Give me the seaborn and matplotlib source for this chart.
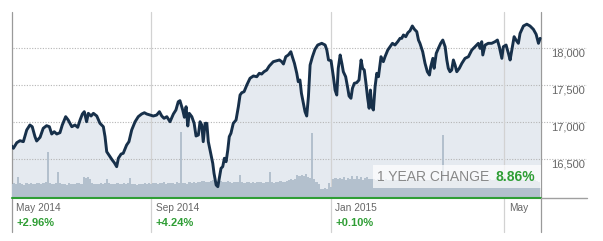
import matplotlib
matplotlib.use("Agg")
import matplotlib.pyplot as plt
import matplotlib.transforms as mtransforms
from matplotlib.patches import Rectangle
import seaborn as sns

# ---------------- data ----------------
day = [0.0, 0.8, 2.4, 3.9, 5.5, 7.1, 8.6, 9.7, 11.0, 11.8, 13.4, 14.9, 16.5, 17.8, 18.9,
       20.1, 21.3, 22.8, 23.9, 25.5, 26.7, 28.4, 29.9, 31.2, 32.3, 33.4, 34.3, 35.4, 36.2,
       37.5, 38.6, 40.2, 41.7, 43.3, 44.1, 44.9, 46.5, 47.5, 48.5, 49.6, 50.4, 51.7, 52.7,
       54.3, 55.4, 56.7, 58.3, 59.8, 61.4, 62.7, 63.8, 65.4, 66.9, 68.5, 69.8, 70.9, 72.0,
       73.3, 74.8, 76.4, 77.6, 78.7, 79.5, 80.8, 81.6, 82.4, 83.2, 83.9, 85.1, 86.2, 87.1,
       88.2, 89.0, 89.8, 90.5, 91.4, 92.2, 92.9, 94.0, 95.0, 95.6, 96.6, 97.4, 98.1, 98.9,
       99.7, 100.5, 101.3, 102.1, 102.8, 103.6, 104.7, 106.0, 107.1, 107.9, 108.7, 109.8,
       111.1, 112.6, 114.2, 115.8, 117.0, 118.1, 119.2, 120.5, 121.7, 122.9, 123.6, 125.2,
       126.5, 127.6, 128.4, 129.5, 130.7, 131.9, 132.6, 133.6, 134.7, 135.4, 136.2, 136.9,
       137.8, 138.6, 139.4, 140.2, 141.0, 142.1, 143.3, 144.6, 146.5, 148.1, 148.9, 149.7,
       150.9, 152.0, 152.8, 153.6, 154.3, 155.2, 156.0, 156.7, 157.8, 158.8, 159.4, 160.3,
       161.0, 161.9, 163.0, 164.1, 165.1, 165.8, 166.6, 167.3, 168.2, 168.9, 169.5, 170.1,
       170.9, 171.7, 172.5, 173.3, 174.5, 175.6, 176.4, 177.7, 178.8, 179.9, 181.1, 182.4,
       183.5, 184.3, 185.1, 186.2, 187.2, 188.2, 189.3, 190.3, 191.4, 192.2, 192.9, 194.2,
       195.3, 196.4, 197.4, 198.0, 199.0, 199.6, 200.6, 201.6, 202.7, 203.7, 204.8, 205.6,
       206.3, 207.1, 207.9, 208.7, 209.5, 210.3, 211.5, 212.7, 214.2, 215.8, 217.4, 218.9,
       220.5, 221.3, 222.1, 222.6, 223.7, 225.2, 226.8, 228.4, 229.5, 230.4, 231.6, 232.3,
       233.6, 234.7, 235.5, 236.3, 237.4, 238.3, 239.4, 240.2, 241.8, 243.4, 244.9, 246.5,
       247.8, 248.9, 249.7]
close = [16679, 16648, 16723, 16750, 16737, 16894, 16961, 16938, 16804, 16746, 16796, 16917,
         16952, 16938, 16840, 16871, 16840, 16858, 16961, 17073, 17028, 16938, 16961, 16930,
         17028, 17109, 17140, 17005, 17118, 17082, 17118, 17082, 16984, 16938, 16804, 16602,
         16535, 16491, 16454, 16401, 16514, 16571, 16581, 16692, 16737, 16894, 17005, 17073,
         17109, 17126, 17109, 17095, 17082, 17095, 17140, 17082, 17051, 17073, 17005, 17109,
         17163, 17274, 17288, 17163, 17065, 17207, 16948, 17118, 17073, 16984, 16813, 16827,
         17005, 16961, 16737, 16984, 16984, 16737, 16581, 16446, 16312, 16155, 16132, 16245,
         16379, 16401, 16514, 16468, 16625, 16804, 16850, 16984, 17028, 17207, 17364, 17395,
         17409, 17499, 17589, 17620, 17610, 17656, 17646, 17677, 17700, 17754, 17790, 17812,
         17825, 17835, 17812, 17781, 17879, 17902, 17946, 17879, 17790, 17656, 17543, 17566,
         17387, 17253, 17140, 17082, 17341, 17767, 17879, 17978, 18036, 18059, 18036, 17969,
         17835, 17825, 17610, 17431, 17364, 17723, 17902, 17790, 17677, 17610, 17454, 17351,
         17320, 17454, 17522, 17530, 17566, 17835, 17723, 17700, 17543, 17320, 17186, 17431,
         17207, 17163, 17476, 17656, 17610, 17879, 17812, 17879, 17969, 18013, 18059, 18036,
         18081, 18126, 18126, 18171, 18148, 18202, 18228, 18292, 18247, 18215, 18103, 18059,
         17946, 17790, 17677, 17633, 17745, 17857, 17723, 17924, 17991, 18059, 18103, 18013,
         17835, 17723, 17677, 17700, 17835, 17767, 17677, 17723, 17790, 17857, 17879, 17969,
         18013, 18059, 17991, 18081, 17902, 18036, 18059, 18059, 18081, 18103, 18013, 17857,
         18013, 18036, 17924, 17835, 17969, 18148, 18103, 18059, 18192, 18292, 18316, 18292,
         18247, 18180, 18059, 18126]

vol_day = list(range(250))
volume = [85, 88, 80, 125, 90, 82, 78, 86, 84, 88,
          80, 84, 90, 86, 82, 88, 92, 275, 86, 84,
          80, 88, 155, 90, 84, 82, 78, 86, 80, 84,
          82, 88, 90, 84, 125, 118, 122, 110, 86, 80,
          84, 80, 86, 82, 90, 115, 88, 84, 80, 82,
          86, 84, 80, 88, 82, 86, 120, 84, 80, 78,
          82, 80, 84, 86, 82, 88, 84, 86, 90, 84,
          88, 86, 92, 84, 88, 90, 86, 84, 92, 88,
          395, 90, 86, 84, 92, 88, 94, 90, 96, 92,
          98, 102, 96, 94, 100, 104, 98, 96, 92, 100,
          96, 94, 98, 92, 90, 96, 94, 92, 138, 94,
          90, 92, 96, 88, 94, 90, 92, 96, 94, 90,
          96, 94, 155, 92, 90, 94, 96, 98, 92, 96,
          100, 104, 110, 108, 112, 138, 130, 135, 132, 140,
          125, 118, 390, 110, 95, 80, 55, 50, 58, 54,
          90, 62, 110, 118, 112, 120, 110, 125, 105, 120,
          115, 128, 110, 130, 112, 124, 108, 118, 122, 110,
          115, 110, 108, 112, 105, 110, 106, 112, 108, 104,
          110, 106, 108, 104, 110, 106, 112, 108, 104, 110,
          106, 108, 112, 104, 108, 110, 106, 108, 104, 110,
          106, 108, 104, 110, 378, 106, 110, 104, 108, 106,
          104, 110, 106, 108, 112, 104, 108, 106, 110, 104,
          108, 106, 110, 104, 108, 106, 112, 104, 108, 110,
          104, 106, 110, 108, 104, 110, 106, 108, 104, 110,
          106, 104, 108, 110, 104, 106, 108, 104, 98, 92]

tick_days = [0, 65.8, 150.8, 232.8]
tick_labels = ["May 2014", "Sep 2014", "Jan 2015", "May"]
tick_changes = ["+2.96%", "+4.24%", "+0.10%", ""]
y_ticks = [16500, 17000, 17500, 18000]
y_tick_labels = ["16,500", "17,000", "17,500", "18,000"]
change_label = "1 YEAR CHANGE"
change_value = "8.86%"

# ---------------- styling ----------------
sns.set_style("white")
plt.rcParams['font.family'] = ['Liberation Sans', 'DejaVu Sans']

NAVY = "#17304a"
FILL = "#e5eaf0"
BAR = "#b3c0cd"
GREEN = "#2f9e35"
GRID = "#b5b5b5"
TXT = "#666666"

Y0, Y1 = 15984, 18476
X1 = 271.7           # right edge of the axes (labels area included)
END = 250            # end of the data area
VMAX = 1112

fig = plt.figure(figsize=(6.03, 2.41), dpi=100)
rect = [0.0194, 0.1797, 0.9536, 0.7693]
ax = fig.add_axes(rect)          # fill + grid + frame lines
ax2 = fig.add_axes(rect)         # volume bars
ax3 = fig.add_axes(rect)         # price line + annotations
for a in (ax, ax2, ax3):
    a.set_xlim(0, X1)
    for s in a.spines.values():
        s.set_visible(False)
    a.set_xticks([])
    a.set_yticks([])
    a.patch.set_visible(False)
ax.set_ylim(Y0, Y1)
ax3.set_ylim(Y0, Y1)
ax2.set_ylim(0, VMAX)

# fill under the price line
ax.fill_between(day, close, Y0, color=FILL, linewidth=0, zorder=1)

# dotted horizontal grid
for yt in y_ticks:
    ax.axhline(yt, xmin=0.002, xmax=1, color=GRID, linewidth=0.8,
               linestyle=(0, (1, 1.4)), zorder=2)

# vertical separators
for i, d in enumerate(tick_days + [END]):
    col = "#9a9a9a" if d in (0, END) else "#d2d2d2"
    ax.axvline(d, ymin=-0.185, ymax=1, color=col, linewidth=0.9,
               clip_on=False, zorder=3)

# volume bars
sns.barplot(x=vol_day, y=volume, native_scale=True, width=1.0, color=BAR,
            linewidth=0, errorbar=None, ax=ax2, saturation=1)
ax2.set_xlim(0, X1)
ax2.set_ylim(0, VMAX)
ax2.set_xlabel("")
ax2.set_ylabel("")
ax2.set_xticks([])
ax2.set_yticks([])

# price line
sns.lineplot(x=day, y=close, ax=ax3, color=NAVY, linewidth=2.1,
             estimator=None, sort=False)
ax3.set_xlim(0, X1)
ax3.set_ylim(Y0, Y1)
ax3.set_xlabel("")
ax3.set_ylabel("")
ax3.set_xticks([])
ax3.set_yticks([])

# baseline: green under the data, grey beyond
ax3.axhline(Y0, xmin=0, xmax=END / X1, color=GREEN, linewidth=1.5,
            clip_on=False, zorder=5)
ax3.axhline(Y0, xmin=END / X1, xmax=1, color="#a0a0a0", linewidth=1.0,
            clip_on=False, zorder=5)

# y labels on the right
for yt, lab in zip(y_ticks, y_tick_labels):
    ax3.text(254.9, yt - 75, lab, ha="left", va="center", fontsize=8,
             color=TXT)

# x labels with percent change
blend = mtransforms.blended_transform_factory(ax3.transData, ax3.transAxes)
for d, lab, ch in zip(tick_days, tick_labels, tick_changes):
    ax3.annotate(lab, xy=(d, -0.053), xycoords=blend, xytext=(3.3, 0),
                 textcoords="offset points", ha="left", va="center",
                 fontsize=7.3, color=TXT, annotation_clip=False)
    if ch:
        ax3.annotate(ch, xy=(d, -0.134), xycoords=blend, xytext=(3.3, 0),
                     textcoords="offset points", ha="left", va="center",
                     fontsize=8, fontweight="bold", color=GREEN,
                     annotation_clip=False)

# "1 YEAR CHANGE" box
ax3.add_patch(Rectangle((170.9, 0.0507), END - 170.9, 0.176 - 0.0507,
                        transform=blend, facecolor="white", alpha=0.7,
                        edgecolor="none", zorder=4))
ax3.text(172.6, 0.113, change_label, transform=blend, ha="left", va="center",
         fontsize=10, color="#888888", zorder=6)
ax3.text(247.4, 0.113, change_value, transform=blend, ha="right", va="center",
         fontsize=10, fontweight="bold", color=GREEN, zorder=6)

fig.savefig("out.png", dpi=100)
